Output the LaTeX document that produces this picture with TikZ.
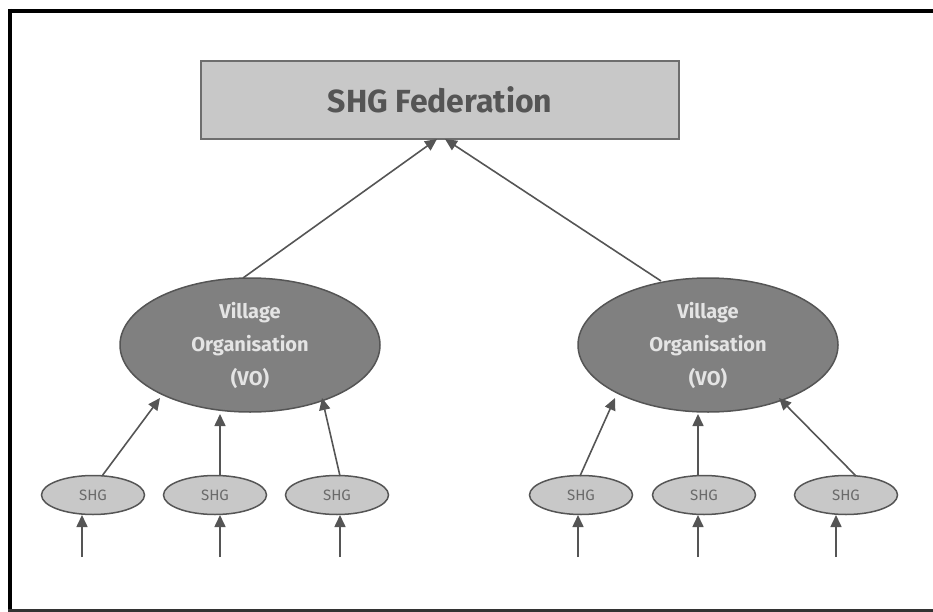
\documentclass[tikz,border=0pt]{standalone}
\usepackage{fontspec}
\setmainfont{Fira Sans}
\usetikzlibrary{arrows.meta,shapes.geometric}
\definecolor{boxfill}{HTML}{C8C8C8}
\definecolor{boxline}{HTML}{6E6E6E}
\definecolor{vofill}{HTML}{808080}
\definecolor{votext}{HTML}{E4E4E4}
\definecolor{linegray}{HTML}{555555}
\definecolor{shgtext}{HTML}{6A6A6A}
\begin{document}
\begin{tikzpicture}[x=1pt,y=-1pt,
  fedbox/.style={draw=boxline,line width=2pt,fill=boxfill,minimum width=478pt,minimum height=78pt,inner sep=0pt,
    font=\fontsize{32}{36}\selectfont\bfseries,text=linegray},
  vo/.style={ellipse,draw=linegray,line width=1.5pt,fill=vofill,minimum width=260pt,minimum height=134pt,inner sep=0pt,
    align=center,font=\fontsize{20}{33.5}\selectfont\bfseries,text=votext},
  shg/.style={ellipse,draw=linegray,line width=1.5pt,fill=boxfill,minimum width=103pt,minimum height=39pt,inner sep=0pt,
    font=\fontsize{15}{17}\selectfont,text=shgtext},
  conn/.style={draw=linegray,line width=1.6pt,-{Triangle[length=12pt,width=11pt]}},
  frame/.style={line width=4pt,black}
]
\useasboundingbox (0,0) rectangle (933,612);
\draw[frame] (8,11) -- (933,11);
\draw[frame] (10,9) -- (10,612);
\draw[line width=3pt,black!80] (8,610.5) -- (933,610.5);

\node[fedbox] (fed) at (440,100) {SHG Federation};

\node[vo] (vo1) at (250,345) {Village\\Organisation\\(VO)};
\node[vo] (vo2) at (708,345) {Village\\Organisation\\(VO)};

\node[shg] (s1) at (93,495) {SHG};
\node[shg] (s2) at (215,495) {SHG};
\node[shg] (s3) at (337,495) {SHG};
\node[shg] (s4) at (581,495) {SHG};
\node[shg] (s5) at (704,495) {SHG};
\node[shg] (s6) at (846,495) {SHG};

\coordinate (fa) at (437,139);
\coordinate (fb) at (445,139);
\draw[conn] (243,278) -- (fa);
\draw[conn] (661,281) -- (fb);

\coordinate (v1a) at (160,398);
\coordinate (v1b) at (220,414);
\coordinate (v1c) at (322,398);
\coordinate (v2a) at (615,398);
\coordinate (v2b) at (698,414);
\coordinate (v2c) at (779,398);
\draw[conn] (102,476) -- (v1a);
\draw[conn] (220,476) -- (v1b);
\draw[conn] (340,476) -- (v1c);
\draw[conn] (580,476) -- (v2a);
\draw[conn] (698,476) -- (v2b);
\draw[conn] (856,476) -- (v2c);

\foreach \n/\x in {1/82,2/220,3/340,4/578,5/698,6/836}{
  \coordinate (b\n) at (\x,557);
  \coordinate (t\n) at (\x,515);
  \draw[conn] (b\n) -- (t\n);
}
\end{tikzpicture}
\end{document}
